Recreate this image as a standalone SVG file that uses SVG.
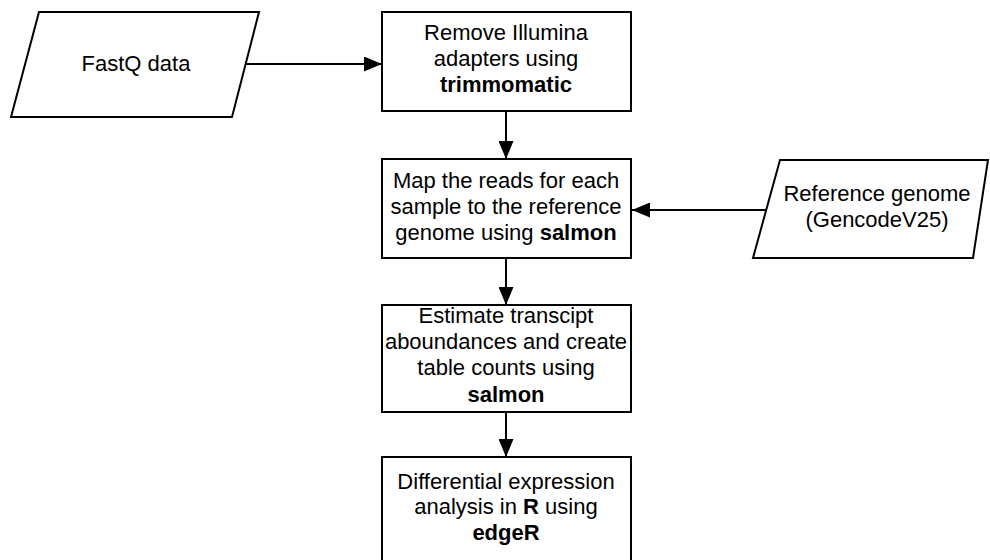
<svg xmlns="http://www.w3.org/2000/svg" width="990" height="560" viewBox="0 0 990 560">
<defs>
<style>
.n{fill:#fff;stroke:#000;stroke-width:2}
.t{font-family:"Liberation Sans",Arial,sans-serif;font-size:22px;fill:#000;text-anchor:middle}
.b{font-weight:bold}
.c{stroke:#000;stroke-width:2;fill:none;marker-end:url(#ah)}
</style>
<marker id="ah" viewBox="0 0 18 15" refX="18" refY="7.5" markerWidth="18" markerHeight="15" markerUnits="userSpaceOnUse" orient="auto">
<path d="M0,0 L18,7.5 L0,15 Z" fill="#000"/>
</marker>
</defs>
<rect width="990" height="560" fill="#fff"/>
<g id="connectors">
<line class="c" x1="245" y1="64" x2="382" y2="64"/>
<line class="c" x1="506" y1="111" x2="506" y2="159"/>
<line class="c" x1="766" y1="210" x2="632" y2="210"/>
<line class="c" x1="506" y1="258" x2="506" y2="305"/>
<line class="c" x1="506" y1="412" x2="506" y2="457"/>
</g>
<g id="fastq">
<polygon class="n" points="39,12 259,12 232,117 11,117"/>
<text class="t" x="136" y="71">FastQ data</text>
</g>
<g id="trim">
<rect class="n" x="382" y="12" width="249" height="99"/>
<text class="t" x="506" y="40">Remove Illumina</text>
<text class="t" x="506" y="66">adapters using</text>
<text class="t b" x="506" y="92">trimmomatic</text>
</g>
<g id="map">
<rect class="n" x="382" y="159" width="249" height="99"/>
<text class="t" x="506" y="188">Map the reads for each</text>
<text class="t" x="506" y="214">sample to the reference</text>
<text class="t" x="506" y="240">genome using <tspan class="b">salmon</tspan></text>
</g>
<g id="ref">
<polygon class="n" points="780,160 988,160 973,258 753,258"/>
<text class="t" x="877" y="201">Reference genome</text>
<text class="t" x="877" y="227">(GencodeV25)</text>
</g>
<g id="estimate">
<rect class="n" x="382" y="305" width="249" height="107"/>
<text class="t" x="506" y="323">Estimate transcipt</text>
<text class="t" x="506" y="349">aboundances and create</text>
<text class="t" x="506" y="375">table counts using</text>
<text class="t b" x="506" y="402">salmon</text>
</g>
<g id="de">
<rect class="n" x="382" y="457" width="249" height="115"/>
<text class="t" x="506" y="489">Differential expression</text>
<text class="t" x="506" y="514">analysis in <tspan class="b">R</tspan> using</text>
<text class="t b" x="506" y="540">edgeR</text>
</g>
</svg>
